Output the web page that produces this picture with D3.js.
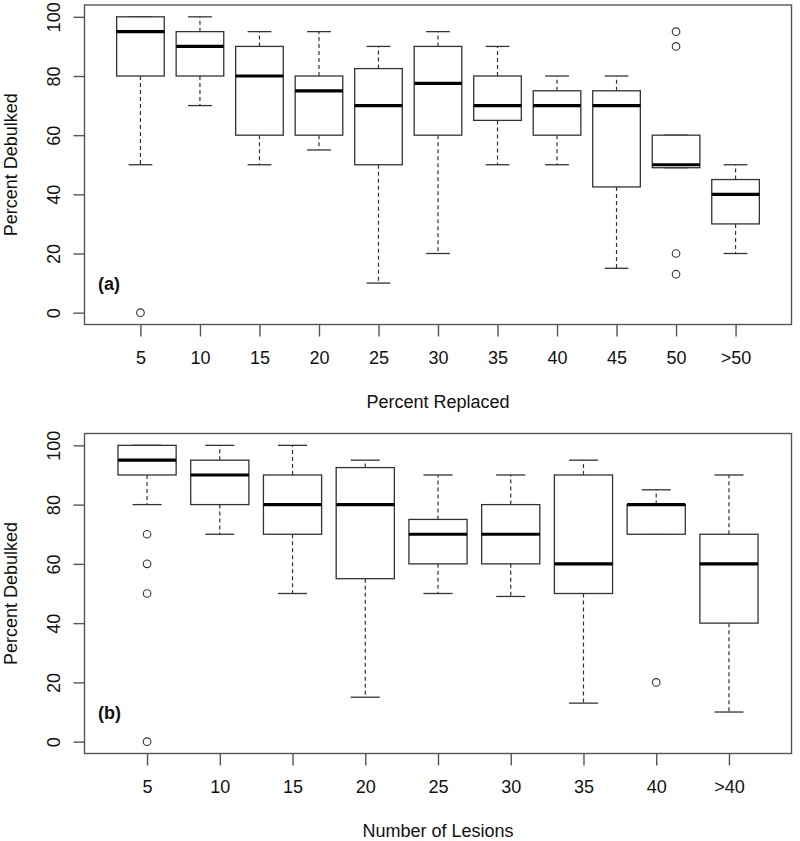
<!DOCTYPE html>
<html>
<head>
<meta charset="utf-8">
<script src="https://cdn.jsdelivr.net/npm/d3@7"></script>
<style>
  body { margin: 0; background: #fff; }
  text { font-family: "Liberation Sans", Arial, sans-serif; fill: #111; }
</style>
</head>
<body>
<svg id="chart" width="800" height="841"></svg>
<script>
// Panel (a): Percent Replaced
const catsA = ["5","10","15","20","25","30","35","40","45","50",">50"];
const lowA  = [50, 70, 50, 55, 10, 20, 50, 50, 15, 49, 20];
const q1A   = [80, 80, 60, 60, 50, 60, 65, 60, 42.5, 49, 30];
const medA  = [95, 90, 80, 75, 70, 77.5, 70, 70, 70, 50, 40];
const q3A   = [100, 95, 90, 80, 82.5, 90, 80, 75, 75, 60, 45];
const highA = [100, 100, 95, 95, 90, 95, 90, 80, 80, 60, 50];
const outA  = [[0], [], [], [], [], [], [], [], [], [95, 90, 20, 13], []];

// Panel (b): Number of Lesions
const catsB = ["5","10","15","20","25","30","35","40",">40"];
const lowB  = [80, 70, 50, 15, 50, 49, 13, 70, 10];
const q1B   = [90, 80, 70, 55, 60, 60, 50, 70, 40];
const medB  = [95, 90, 80, 80, 70, 70, 60, 80, 60];
const q3B   = [100, 95, 90, 92.5, 75, 80, 90, 80, 70];
const highB = [100, 100, 100, 95, 90, 90, 95, 85, 90];
const outB  = [[70, 60, 50, 0], [], [], [], [], [], [], [20], []];

const yTicks = [0, 20, 40, 60, 80, 100];

const svg = d3.select("#chart");
const FS = "18px";

function panel(cfg) {
  const n = cfg.cats.length;
  const left = 84.5, right = 791.5;
  const ext = 0.04 * n;
  const x = d3.scaleLinear().domain([0.5 - ext, n + 0.5 + ext]).range([left, right]);
  const y = d3.scaleLinear().domain([-4, 104]).range([cfg.bottom, cfg.top]);
  const g = svg.append("g");
  const step = x(2) - x(1);
  const bw = step * 0.8;
  const cw = bw * 0.5;

  // frame
  g.append("rect").attr("x", left).attr("y", cfg.top)
    .attr("width", right - left).attr("height", cfg.bottom - cfg.top)
    .attr("fill", "none").attr("stroke", "#555").attr("stroke-width", 1.4);

  // y axis
  const yAxis = d3.axisLeft(y).tickValues(yTicks).tickSize(11).tickPadding(0).tickFormat(d3.format("d"));
  const ya = g.append("g").attr("transform", `translate(${left},0)`).call(yAxis);
  ya.select(".domain").remove();
  ya.selectAll(".tick line").attr("stroke", "#555").attr("stroke-width", 1.4);
  ya.selectAll(".tick text").attr("transform", "rotate(-90)").attr("x", 0).attr("y", -24.5)
    .attr("dy", "0").attr("text-anchor", "middle").style("font-size", FS)
    .style("font-family", "'Liberation Sans', Arial, sans-serif").attr("fill", "#111");

  // x axis
  const xAxis = d3.axisBottom(x).tickValues(d3.range(1, n + 1)).tickSize(12).tickPadding(0)
    .tickFormat((d) => cfg.cats[d - 1]);
  const xa = g.append("g").attr("transform", `translate(0,${cfg.bottom})`).call(xAxis);
  xa.select(".domain").remove();
  xa.selectAll(".tick line").attr("stroke", "#555").attr("stroke-width", 1.4);
  xa.selectAll(".tick text").attr("y", 39.5).attr("dy", "0").style("font-size", FS)
    .style("font-family", "'Liberation Sans', Arial, sans-serif").attr("fill", "#111");

  // boxes
  cfg.cats.forEach((c, i) => {
    const cx = x(i + 1);
    const bg = g.append("g");
    // whiskers
    bg.append("line").attr("x1", cx).attr("x2", cx).attr("y1", y(cfg.q3[i])).attr("y2", y(cfg.high[i]))
      .attr("stroke", "#333").attr("stroke-width", 1.2).attr("stroke-dasharray", "4,3");
    bg.append("line").attr("x1", cx).attr("x2", cx).attr("y1", y(cfg.q1[i])).attr("y2", y(cfg.low[i]))
      .attr("stroke", "#333").attr("stroke-width", 1.2).attr("stroke-dasharray", "4,3");
    // staples
    [cfg.high[i], cfg.low[i]].forEach(v => {
      bg.append("line").attr("x1", cx - cw / 2).attr("x2", cx + cw / 2).attr("y1", y(v)).attr("y2", y(v))
        .attr("stroke", "#333").attr("stroke-width", 1.3);
    });
    // box
    bg.append("rect").attr("x", cx - bw / 2).attr("y", y(cfg.q3[i]))
      .attr("width", bw).attr("height", y(cfg.q1[i]) - y(cfg.q3[i]))
      .attr("fill", "#fff").attr("stroke", "#333").attr("stroke-width", 1.3);
    // median
    bg.append("line").attr("x1", cx - bw / 2).attr("x2", cx + bw / 2)
      .attr("y1", y(cfg.med[i])).attr("y2", y(cfg.med[i]))
      .attr("stroke", "#000").attr("stroke-width", 3.2);
    // outliers
    cfg.out[i].forEach(v => {
      bg.append("circle").attr("cx", cx).attr("cy", y(v)).attr("r", 3.8)
        .attr("fill", "none").attr("stroke", "#333").attr("stroke-width", 1.1);
    });
  });

  // panel label
  g.append("text").attr("x", 98).attr("y", cfg.labelY).style("font-size", FS)
    .style("font-weight", "bold").text(cfg.label);

  // axis titles
  g.append("text").attr("x", (left + right) / 2).attr("y", cfg.xTitleY).attr("text-anchor", "middle")
    .style("font-size", FS).text(cfg.xTitle);
  g.append("text").attr("transform", `translate(16.5,${(cfg.top + cfg.bottom) / 2}) rotate(-90)`)
    .attr("text-anchor", "middle").style("font-size", FS).text("Percent Debulked");
}

panel({ cats: catsA, low: lowA, q1: q1A, med: medA, q3: q3A, high: highA, out: outA,
  top: 5, bottom: 324.5, label: "(a)", labelY: 290, xTitle: "Percent Replaced", xTitleY: 408 });
panel({ cats: catsB, low: lowB, q1: q1B, med: medB, q3: q3B, high: highB, out: outB,
  top: 433.5, bottom: 753.5, label: "(b)", labelY: 719, xTitle: "Number of Lesions", xTitleY: 837 });
</script>
</body>
</html>
